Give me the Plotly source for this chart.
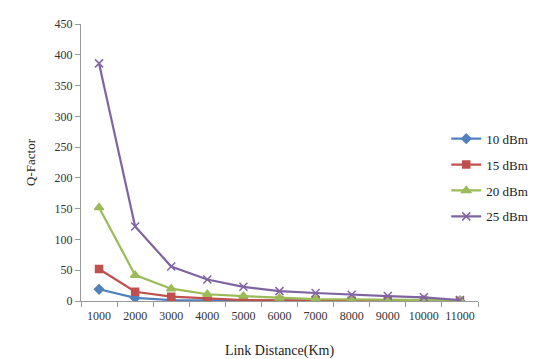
import plotly.graph_objects as go

distances = ["1000", "2000", "3000", "4000", "5000", "6000", "7000", "8000", "9000", "10000", "11000"]
q_10dbm = [19, 5, 1.5, 1, 0.6, 0.4, 0.3, 0.2, 0.15, 0.1, 0.1]
q_15dbm = [52, 15, 7, 4, 1.5, 1, 0.8, 0.6, 0.4, 0.3, 0.2]
q_20dbm = [152, 42, 20, 11, 8, 5, 3, 2.5, 2, 1.5, 1]
q_25dbm = [386, 121, 56, 35, 23, 16, 13, 10, 8, 6, 1.5]

series = [
    ("10 dBm", q_10dbm, "#4F81BD", "diamond", 7),
    ("15 dBm", q_15dbm, "#C0504D", "square", 7),
    ("20 dBm", q_20dbm, "#9BBB59", "triangle-up", 8),
    ("25 dBm", q_25dbm, "#8064A2", "x-thin", 8),
]

fig = go.Figure()
for i, (name, vals, color, sym, size) in enumerate(series):
    fig.add_trace(go.Scatter(
        x=distances, y=vals, name=name, mode="lines+markers",
        line=dict(color=color, width=2.2),
        marker=dict(symbol=sym, size=size, color=color,
                    line=dict(color=color, width=1.5)),
        legendgroup=f"g{i}",
    ))

font_family = "Times New Roman, Liberation Serif, serif"
fig.update_layout(
    width=535, height=351,
    margin=dict(l=73, r=65, t=16, b=58, autoexpand=False),
    paper_bgcolor="white", plot_bgcolor="white",
    font=dict(family=font_family, size=12, color="#333333"),
    showlegend=True,
    legend=dict(x=0.92, y=0.64, xanchor="left", yanchor="top",
                font=dict(family=font_family, size=13, color="#222222"),
                tracegroupgap=6, bgcolor="rgba(0,0,0,0)", itemwidth=30),
    xaxis=dict(
        type="category", range=[-0.5, 10.5], tickson="boundaries",
        ticks="outside", ticklen=5,
        tickcolor="#999999", showline=True, linecolor="#999999", linewidth=1,
        showgrid=False, zeroline=False, tickangle=0, automargin=False,
        ticklabelstandoff=4,
        tickfont=dict(family=font_family, size=12, color="#333333"),
        title=dict(text="Link Distance(Km)", standoff=22,
                   font=dict(family=font_family, size=14, color="#222222")),
    ),
    yaxis=dict(
        range=[0, 450], dtick=50, ticks="outside", ticklen=5,
        tickcolor="#999999", showline=True, linecolor="#999999", linewidth=1,
        showgrid=False, zeroline=False, automargin=False,
        tickfont=dict(family=font_family, size=12, color="#333333"),
        title=dict(text="Q-Factor", standoff=16,
                   font=dict(family=font_family, size=13, color="#222222")),
    ),
)

fig.write_html("out.html")
